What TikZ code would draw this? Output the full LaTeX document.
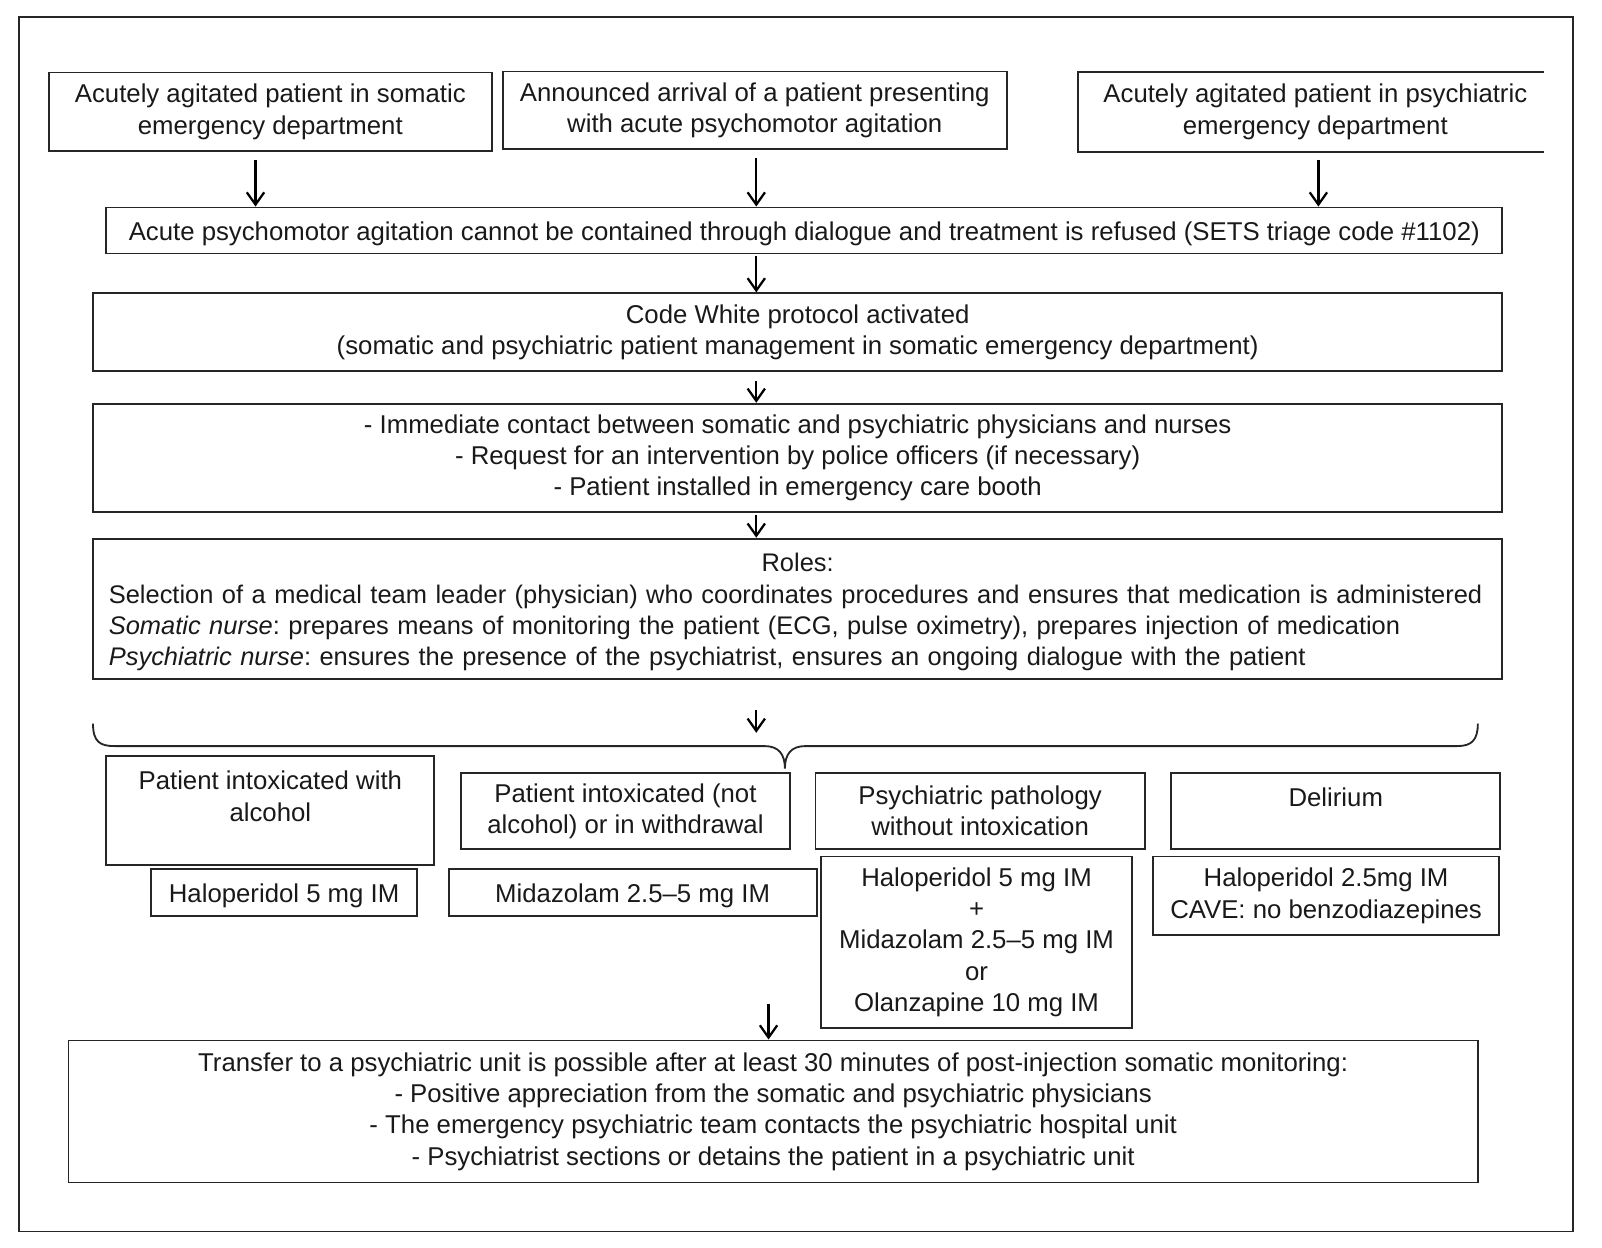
\documentclass[tikz,border=0pt]{standalone}
\usepackage{fontspec}
\setmainfont{Liberation Sans}
\usetikzlibrary{arrows.meta}
\frenchspacing
\newcommand{\fs}{\fontsize{12.6}{15.3}\selectfont}
\newcommand{\fse}{\fontsize{12.45}{15.3}\selectfont}
\newcommand{\topstrut}{\rule{0pt}{12.6pt}}
\begin{document}
\begin{tikzpicture}[x=0.5pt,y=-0.5pt,
  box/.style={draw=black!85, line width=0.9pt, inner sep=0pt, align=center, font=\fs, text=black!90, execute at begin node=\topstrut},
  nobox/.style={inner sep=0pt, align=center, font=\fs, text=black!90, execute at begin node=\topstrut},
  arr/.style={-{Straight Barb[length=6pt,width=8.5pt,line width=1.1pt]}, line width=1.1pt, draw=black},
  edge/.style={draw=black!85, line width=0.9pt}]
\useasboundingbox (0,0) rectangle (1567.5,1221.1);
\draw[edge] (19,17) rectangle (1539,1205);
% top row
\node[box, minimum width=216.5pt, minimum height=38.5pt] (a1) at (264.5,109.5) {Acutely agitated patient in somatic\\emergency department};
\node[box, minimum width=246.5pt, minimum height=38pt] (a2) at (738.5,108) {Announced arrival of a patient presenting\\with acute psychomotor agitation};
\node[nobox, minimum width=232pt, minimum height=38.5pt] (a3) at (1287,109.5) {Acutely agitated patient in psychiatric\\emergency department};
\draw[edge] ([xshift=-4.5pt]a3.north east) -- (a3.north west) -- (a3.south west) -- ([xshift=-4.5pt]a3.south east);
\node[box, minimum width=683pt, minimum height=22.5pt] (b) at (787,225.5) {Acute psychomotor agitation cannot be contained through dialogue and treatment is refused (SETS triage code \#1102)};
\node[box, minimum width=689.5pt, minimum height=38pt] (c) at (780.5,325) {Code White protocol activated\\(somatic and psychiatric patient management in somatic emergency department)};
\node[box, minimum width=689.5pt, minimum height=53pt] (d) at (780.5,448) {- Immediate contact between somatic and psychiatric physicians and nurses\\- Request for an intervention by police officers (if necessary)\\- Patient installed in emergency care booth};
\node[box, minimum width=689.5pt, minimum height=68.5pt, align=left, text width=674pt, font=\fse] (e) at (780.5,595.5) {\makebox[\linewidth]{Roles:}\\\mbox{Selection of a medical team leader (physician) who coordinates procedures and ensures that medication is administered}\\\mbox{\textit{Somatic nurse}: prepares means of monitoring the patient (ECG, pulse oximetry), prepares injection of medication}\\\mbox{\textit{Psychiatric nurse}: ensures the presence of the psychiatrist, ensures an ongoing dialogue with the patient}};
% categories
\node[box, minimum width=160.5pt, minimum height=53pt] (f1) at (264.5,793) {Patient intoxicated with\\alcohol\\[-6pt]\strut};
\node[box, minimum width=161pt, minimum height=37.5pt] (f2) at (612,793.5) {Patient intoxicated (not\\alcohol) or in withdrawal};
\node[box, minimum width=161pt, minimum height=37.5pt] (f3) at (959,793.5) {Psychiatric pathology\\without intoxication};
\node[box, minimum width=161pt, minimum height=37.5pt] (f4) at (1307,793.5) {Delirium\\[-6pt]\strut};
% treatments
\node[box, minimum width=130pt, minimum height=23pt] (g1) at (278,873) {Haloperidol 5 mg IM};
\node[box, minimum width=180pt, minimum height=23pt] (g2) at (619,873) {Midazolam 2.5–5 mg IM};
\node[box, minimum width=152.5pt, minimum height=84pt] (g3) at (955.5,922) {Haloperidol 5 mg IM\\+\\Midazolam 2.5–5 mg IM\\or\\Olanzapine 10 mg IM};
\node[box, minimum width=169.5pt, minimum height=38.5pt] (g4) at (1297.5,876.5) {Haloperidol 2.5mg IM\\CAVE: no benzodiazepines};
\node[box, minimum width=689.5pt, minimum height=69.5pt] (h) at (756.5,1087.5) {Transfer to a psychiatric unit is possible after at least 30 minutes of post-injection somatic monitoring:\\- Positive appreciation from the somatic and psychiatric physicians\\- The emergency psychiatric team contacts the psychiatric hospital unit\\- Psychiatrist sections or detains the patient in a psychiatric unit};
% arrow x positions
\coordinate (x1) at (250,0);
\coordinate (x2) at (740,0);
\coordinate (x3) at (1290,0);
\coordinate (x4) at (752,0);
\draw[arr] ([yshift=-4pt]a1.south -| x1) -- (b.north -| x1);
\draw[arr] ([yshift=-4pt]a2.south -| x2) -- (b.north -| x2);
\draw[arr] ([yshift=-4pt]a3.south -| x3) -- (b.north -| x3);
\draw[arr] ([yshift=-1pt]b.south -| x2) -- (c.north -| x2);
\draw[arr] ([yshift=-4.5pt]c.south -| x2) -- (d.north -| x2);
\draw[arr] ([yshift=-1pt]d.south -| x2) -- (e.north -| x2);
\coordinate (bs) at (740,695);
\coordinate (be) at (740,717);
\draw[arr] (bs) -- (be);
% brace
\draw[edge] (91,708) .. controls (91,726) and (98,730) .. (112,730) -- (748,730) .. controls (762,730) and (768,738) .. (768,752) .. controls (768,738) and (774,730) .. (788,730) -- (1426,730) .. controls (1440,730) and (1446,724) .. (1446,708);
\coordinate (hs) at (752,982);
\draw[arr] (hs) -- (h.north -| x4);
\end{tikzpicture}
\end{document}
